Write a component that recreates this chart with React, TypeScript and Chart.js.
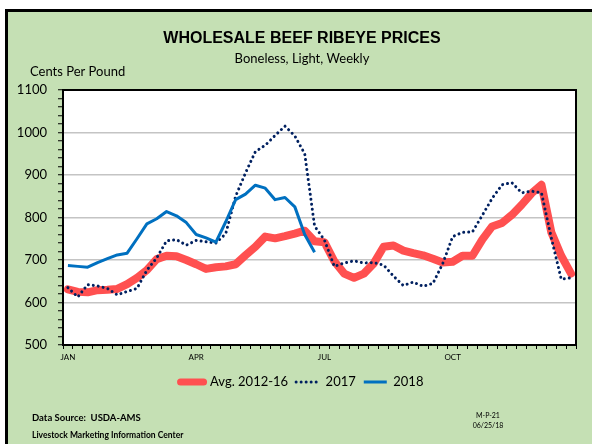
import { useEffect, useRef } from "react";
import { Chart, registerables } from "chart.js";

Chart.register(...registerables);

// 52 weekly categories
const weekLabels = [
  "1", "2", "3", "4", "5", "6", "7", "8", "9", "10", "11", "12", "13",
  "14", "15", "16", "17", "18", "19", "20", "21", "22", "23", "24", "25", "26",
  "27", "28", "29", "30", "31", "32", "33", "34", "35", "36", "37", "38", "39",
  "40", "41", "42", "43", "44", "45", "46", "47", "48", "49", "50", "51", "52",
];
const monthLabels = ["JAN", "APR", "JUL", "OCT"];
const monthWeeks = [0, 13, 26, 39];

const avg2012_16 = [
  631, 625, 624, 629, 630, 632, 643, 658, 676, 702, 710, 709, 700,
  690, 679, 683, 685, 690, 711, 731, 755, 751, 756, 762, 769, 744,
  742, 697, 668, 658, 668, 692, 731, 734, 722, 716, 711, 703, 694,
  696, 710, 710, 748, 779, 787, 806, 830, 857, 877, 765, 710, 668,
];
const prices2017 = [
  635, 613, 642, 639, 633, 618, 626, 633, 676, 705, 745, 748, 735,
  746, 743, 740, 762, 850, 905, 955, 970, 993, 1015, 992, 950, 780,
  747, 685, 693, 698, 693, 694, 688, 662, 640, 648, 638, 645, 692,
  755, 765, 766, 805, 845, 877, 882, 858, 862, 858, 752, 655, 658,
];
const prices2018 = [
  687, 685, 683, 694, 703, 712, 716, 750, 785, 797, 814, 804, 788,
  760, 752, 742, 790, 842, 855, 876, 869, 842, 847, 825, 760, 718,
];

const yMin = 500;
const yMax = 1100;

const titleText = "WHOLESALE BEEF RIBEYE PRICES";
const subtitleText = "Boneless, Light, Weekly";
const unitText = "Cents Per Pound";
const sourceText = "Data Source:  USDA-AMS";
const centerText = "Livestock Marketing Information Center";
const codeText = "M-P-21";
const dateText = "06/25/18";

const GREEN = "#C5E0B4";
const FONT = "Lato, 'Open Sans', sans-serif";

const framePlugin = {
  id: "frame",
  beforeDraw(chart: any) {
    const { ctx, width, height, chartArea: a } = chart;
    ctx.save();
    ctx.fillStyle = "#ffffff";
    ctx.fillRect(0, 0, width, height);
    ctx.fillStyle = GREEN;
    ctx.fillRect(6, 10, width - 6, height - 10);
    ctx.strokeStyle = "#000";
    ctx.lineWidth = 3;
    ctx.beginPath();
    ctx.moveTo(6.5, height);
    ctx.lineTo(6.5, 10.5);
    ctx.lineTo(width, 10.5);
    ctx.stroke();
    ctx.fillStyle = "#ffffff";
    ctx.fillRect(a.left, a.top, a.right - a.left, a.bottom - a.top);
    ctx.restore();
  },
  afterDraw(chart: any) {
    const { ctx, chartArea: a } = chart;
    ctx.save();
    ctx.strokeStyle = "#000";
    ctx.lineWidth = 2;
    ctx.strokeRect(a.left, a.top, a.right - a.left, a.bottom - a.top);

    ctx.fillStyle = "#000";
    ctx.textBaseline = "middle";
    ctx.textAlign = "left";
    ctx.font = `13px ${FONT}`;
    ctx.fillText(unitText, 30, 72);

    ctx.font = `bold 9.5px ${FONT}`;
    ctx.fillText(sourceText, 32, 418);
    ctx.font = `bold 8.5px ${FONT}`;
    ctx.fillText(centerText, 32, 435);

    ctx.textAlign = "center";
    ctx.font = `7px ${FONT}`;
    ctx.fillText(codeText, 488, 416);
    ctx.fillText(dateText, 488, 426);
    ctx.restore();
  },
};

export default function App() {
  const ref = useRef<HTMLCanvasElement>(null);

  useEffect(() => {
    if (!ref.current) return;
    const chart = new Chart(ref.current, {
      type: "line",
      data: {
        labels: weekLabels,
        datasets: [
          {
            label: "2018",
            data: prices2018,
            borderColor: "#0070C0",
            backgroundColor: "#0070C0",
            borderWidth: 3,
            borderCapStyle: "butt",
            borderJoinStyle: "round",
            pointRadius: 0,
            tension: 0,
            fill: false,
          },
          {
            label: "2017",
            data: prices2017,
            borderColor: "#002060",
            backgroundColor: "#002060",
            borderWidth: 3,
            borderDash: [0.01, 5],
            borderCapStyle: "round",
            borderJoinStyle: "round",
            pointRadius: 0,
            tension: 0,
            fill: false,
          },
          {
            label: "Avg. 2012-16",
            data: avg2012_16,
            borderColor: "#FF5050",
            backgroundColor: "#FF5050",
            borderWidth: 8,
            borderCapStyle: "round",
            borderJoinStyle: "round",
            pointRadius: 0,
            tension: 0,
            fill: false,
          },
        ],
      } as any,
      options: {
        responsive: false,
        animation: false,
        events: [],
        layout: { padding: { left: 14, right: 2, top: 0, bottom: 45.5 } },
        plugins: {
          title: {
            display: true,
            text: titleText,
            color: "#000",
            font: { family: "'Liberation Sans', Arial, sans-serif", size: 16, weight: "bold" },
            padding: { top: 28.5, bottom: 0 },
          },
          subtitle: {
            display: true,
            text: subtitleText,
            color: "#000",
            font: { family: FONT, size: 13 },
            padding: { top: 3, bottom: 23.7 },
          },
          legend: {
            display: true,
            position: "bottom",
            labels: {
              usePointStyle: true,
              pointStyleWidth: 23,
              boxHeight: 8,
              padding: 8,
              color: "#000",
              font: { family: FONT, size: 13 },
              generateLabels: (c: any) =>
                [2, 1, 0].map((idx) => {
                  const ds = c.data.datasets[idx];
                  return {
                    text: ds.label,
                    datasetIndex: idx,
                    strokeStyle: ds.borderColor,
                    fillStyle: ds.borderColor,
                    fontColor: "#000",
                    lineWidth: idx === 2 ? 7 : ds.borderWidth,
                    lineDash: ds.borderDash || [],
                    lineCap: idx === 0 ? "butt" : "round",
                    pointStyle: "line",
                    hidden: false,
                  };
                }),
            },
          },
          tooltip: { enabled: false },
        },
        scales: {
          x: {
            type: "category",
            offset: true,
            grid: {
              offset: true,
              drawOnChartArea: false,
              drawTicks: true,
              tickLength: 4,
              color: "#000",
              lineWidth: 1,
            },
            border: { display: false },
            ticks: {
              autoSkip: false,
              maxRotation: 0,
              minRotation: 0,
              padding: 4,
              color: "#000",
              font: { family: FONT, size: 8 },
              callback: (_v: any, i: number) => {
                const k = monthWeeks.indexOf(i);
                return k >= 0 ? monthLabels[k] : "";
              },
            },
            afterFit: (s: any) => {
              s.height = 22.5;
            },
          },
          y: {
            min: yMin,
            max: yMax,
            ticks: {
              stepSize: 20,
              autoSkip: false,
              padding: 11,
              color: "#000",
              font: { family: FONT, size: 13 },
              callback: (v: any) => (Number(v) % 100 === 0 ? String(v) : ""),
            },
            grid: {
              color: (c: any) =>
                c.tick && c.tick.value % 100 === 0 && c.tick.value > yMin && c.tick.value < yMax
                  ? "#C4C4C4"
                  : "rgba(0,0,0,0)",
              lineWidth: 1.5,
              drawTicks: true,
              tickLength: 5,
              tickColor: "#000",
              tickWidth: 1,
            },
            border: { display: false },
            afterFit: (s: any) => {
              s.width = 49;
            },
          },
          yRightSpace: {
            position: "right",
            display: true,
            grid: { display: false, drawTicks: false },
            ticks: { display: false },
            border: { display: false },
            afterFit: (s: any) => {
              s.width = 14;
            },
          },
        },
      } as any,
      plugins: [framePlugin],
    });
    return () => chart.destroy();
  }, []);

  return (
    <div style={{ position: "fixed", left: 0, top: 0, width: 592, height: 444 }}>
      <canvas ref={ref} width={592} height={444} style={{ display: "block" }} />
    </div>
  );
}
